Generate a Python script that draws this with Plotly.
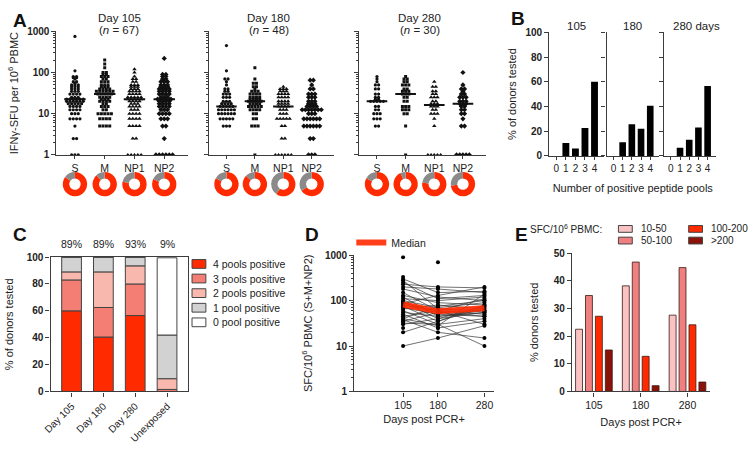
import numpy as np
import plotly.graph_objects as go

W, H = 750, 450
FONT = "Liberation Sans, Arial, Helvetica, sans-serif"
INK = "#222222"
AX = "#3c3c3c"

# ---------------- Panel A data: SFU values (levels) and number of donors at each level -------------
POOLS = ["S", "M", "NP1", "NP2"]
A_DAYS = ["Day 105", "Day 180", "Day 280"]
A_N = ["(<i>n</i> = 67)", "(<i>n</i> = 48)", "(<i>n</i> = 30)"]
THRESHOLD = 9

D105_S_LV = [1, 2.5, 5, 7.5, 10, 12.5, 15, 17.5, 20, 22.5, 25, 30, 35, 40, 45, 50, 55, 60, 70, 75, 80, 110, 750]
D105_S_CT = [3, 2, 1, 4, 3, 4, 4, 5, 6, 6, 3, 4, 3, 3, 3, 3, 1, 2, 1, 2, 2, 1, 1]
D105_M_LV = [5, 7.5, 10, 12.5, 15, 17.5, 20, 22.5, 25, 30, 35, 40, 45, 50, 60, 70, 80, 90, 100, 130, 160, 200]
D105_M_CT = [4, 4, 5, 2, 3, 2, 4, 3, 4, 5, 6, 4, 3, 3, 3, 2, 3, 2, 2, 1, 1, 1]
D105_NP1_LV = [1, 2.5, 5, 7.5, 10, 12.5, 15, 17.5, 20, 22.5, 25, 30, 35, 40, 45, 50, 60, 70, 80, 100, 120]
D105_NP1_CT = [5, 2, 4, 4, 4, 3, 4, 3, 4, 5, 5, 4, 4, 3, 3, 3, 2, 2, 1, 1, 1]
D105_NP2_LV = [1, 2.5, 5, 7.5, 10, 12.5, 15, 17.5, 20, 22.5, 25, 30, 35, 40, 45, 50, 60, 70, 80, 90, 220]
D105_NP2_CT = [6, 1, 2, 3, 4, 3, 4, 4, 4, 5, 3, 4, 4, 4, 3, 3, 3, 2, 2, 2, 1]

D180_S_LV = [5, 7.5, 10, 12.5, 15, 17.5, 20, 25, 30, 35, 40, 50, 60, 70, 110, 450]
D180_S_CT = [3, 5, 6, 6, 5, 4, 3, 3, 3, 2, 2, 1, 1, 2, 1, 1]
D180_M_LV = [1, 5, 7.5, 10, 12.5, 15, 17.5, 20, 22.5, 25, 30, 35, 40, 45, 55, 70, 130]
D180_M_CT = [1, 3, 2, 2, 4, 5, 4, 5, 4, 4, 4, 3, 1, 2, 2, 1, 1]
D180_NP1_LV = [1, 2.5, 5, 7.5, 10, 12.5, 15, 17.5, 20, 25, 30, 35, 40, 45]
D180_NP1_CT = [6, 2, 2, 5, 3, 3, 4, 4, 4, 4, 4, 3, 3, 1]
D180_NP2_LV = [1, 2.5, 5, 7.5, 10, 12.5, 15, 17.5, 20, 25, 30, 40, 50, 65]
D180_NP2_CT = [3, 2, 6, 6, 3, 7, 4, 3, 3, 3, 3, 2, 1, 2]

D280_S_LV = [5, 7.5, 10, 12.5, 15, 20, 22.5, 25, 30, 40, 50, 60, 70, 80]
D280_S_CT = [2, 3, 3, 2, 2, 5, 2, 2, 2, 2, 2, 1, 1, 1]
D280_M_LV = [1, 5, 10, 12.5, 15, 20, 25, 30, 35, 40, 50, 60, 70, 80]
D280_M_CT = [1, 1, 2, 3, 3, 2, 2, 3, 3, 2, 3, 2, 2, 1]
D280_NP1_LV = [1, 5, 7.5, 10, 12.5, 15, 17.5, 20, 25, 30, 35, 45, 60]
D280_NP1_CT = [5, 1, 1, 3, 2, 3, 3, 2, 3, 2, 2, 2, 1]
D280_NP2_LV = [1, 5, 7.5, 10, 12.5, 15, 17.5, 20, 25, 30, 35, 40, 50, 100]
D280_NP2_CT = [5, 2, 1, 2, 2, 2, 3, 3, 3, 2, 1, 2, 1, 1]

# % of donors responding (red part of each donut), per pool S, M, NP1, NP2
DONUT_105 = [85, 88, 78, 82]
DONUT_180 = [83, 87, 60, 66]
DONUT_280 = [83, 93, 77, 73]

# ---------------- Panel B data ----------------
B_POOLS = [0, 1, 2, 3, 4]
B_TITLES = ["105", "180", "280 days"]
B_105 = [0, 10.5, 6, 22.5, 60]
B_180 = [0, 11, 25.5, 22, 40.5]
B_280 = [0, 6.5, 13, 23, 56.5]

# ---------------- Panel C data ----------------
C_CATS = ["Day 105", "Day 180", "Day 280", "Unexposed"]
C_NAMES = ["4 pools positive", "3 pools positive", "2 pools positive", "1 pool positive", "0 pool positive"]
C_4 = [60, 40.5, 56.5, 0]
C_3 = [23, 22, 23.5, 1.5]
C_2 = [6, 26.5, 13.5, 8]
C_1 = [11, 11, 6.5, 32.5]
C_0 = [0, 0, 0, 57.5]
C_PCT = ["89%", "89%", "93%", "9%"]

# ---------------- Panel D data (SFC/10^6 PBMC, S+M+NP2) ----------------
D_DAYS = [105, 180, 280]
DONOR_105 = [230, 300, 250, 200, 180, 150, 130, 120, 110, 100, 95, 90, 85, 80, 75, 70, 65, 60, 55, 50,
             45, 40, 38, 35, 32, 30, 20, 10, 280, 40]
DONOR_180 = [200, 150, 110, 180, 120, 60, 90, 45, 100, 70, 40, 55, 130, 60, 35, 50, 80, 30, 45, 25,
             60, 75, 20, 55, 30, 40, 35, 15, 65, 28]
DONOR_280 = [190, 160, 130, 150, 100, 110, 80, 60, 120, 90, 75, 60, 200, 50, 70, 45, 65, 40, 55, 35,
             30, 100, 15, 45, 10, 55, 80, 28, 60, 140]
EXTRA_105 = [900, 330, 35, 45, 25]
EXTRA_180 = [700, 190, 25]
MEDIAN_D = [82, 58, 68]

# ---------------- Panel E data ----------------
E_DAYS = ["105", "180", "280"]
E_NAMES = ["10-50", "50-100", "100-200", ">200"]
E_10_50 = [22.5, 38.2, 27.6]
E_50_100 = [34.7, 46.8, 44.8]
E_100_200 = [27.2, 12.7, 24.1]
E_GT200 = [15.0, 2.1, 3.4]

# ---------------- styling ----------------
RED = "#ff2a00"
GREY_DONUT = "#8a8a8a"
C_COLORS = ["#ff2a00", "#f47d74", "#f9b8ae", "#d2d2d2", "#ffffff"]
E_COLORS = ["#f9c3c3", "#f08080", "#ff2a00", "#8a1208"]

fig = go.Figure()
layout = {}
annotations = []
shapes = []


def xdom(a, b):
    return [a / W, b / W]


def ydom(top, bot):
    return [1 - bot / H, 1 - top / H]


def tfont(size=10, bold=False):
    d = dict(family=FONT, size=size, color=INK)
    if bold:
        d["weight"] = "bold"
    return d


def base_axis(**kw):
    d = dict(showline=True, linecolor=AX, linewidth=1.2, ticks="outside", tickcolor=AX,
             tickwidth=1.1, ticklen=4, showgrid=False, zeroline=False, tickfont=tfont(10),
             fixedrange=True)
    d.update(kw)
    return d


def ax_names(k):
    return ("xaxis" if k == 1 else f"xaxis{k}", "yaxis" if k == 1 else f"yaxis{k}",
            "x" if k == 1 else f"x{k}", "y" if k == 1 else f"y{k}")


def letter(t, x, y):
    annotations.append(dict(text=f"<b>{t}</b>", x=x / W, y=1 - y / H, xref="paper", yref="paper",
                            xanchor="left", yanchor="top", showarrow=False,
                            font=dict(family=FONT, size=19, color="#111")))


def text_px(t, x, y, size=10.5, xanchor="center", yanchor="middle"):
    annotations.append(dict(text=t, x=x / W, y=1 - y / H, xref="paper", yref="paper",
                            xanchor=xanchor, yanchor=yanchor, showarrow=False, font=tfont(size)))


# ================= Panel A =================
A_DATA = [
    [(D105_S_LV, D105_S_CT), (D105_M_LV, D105_M_CT), (D105_NP1_LV, D105_NP1_CT), (D105_NP2_LV, D105_NP2_CT)],
    [(D180_S_LV, D180_S_CT), (D180_M_LV, D180_M_CT), (D180_NP1_LV, D180_NP1_CT), (D180_NP2_LV, D180_NP2_CT)],
    [(D280_S_LV, D280_S_CT), (D280_M_LV, D280_M_CT), (D280_NP1_LV, D280_NP1_CT), (D280_NP2_LV, D280_NP2_CT)],
]
DONUTS = [DONUT_105, DONUT_180, DONUT_280]
A_XPIX = [(49, 182), (203, 330), (355, 483)]
A_TOP, A_BOT = 26, 153
A_RANGE = [-0.62, 3.8]
SYMBOLS = ["circle", "square", "triangle-up", "diamond"]
SIZES = [3.2, 3.0, 4.0, 4.0]
STEP = 0.112

for d in range(3):
    k = d + 1
    xa, ya, xr, yr = ax_names(k)
    x0p, x1p = A_XPIX[d]
    layout[xa] = base_axis(domain=xdom(x0p, x1p), anchor=yr, range=A_RANGE,
                           tickvals=[0, 1, 2, 3], ticktext=POOLS, ticklen=3, tickfont=tfont(10.5))
    layout[ya] = base_axis(domain=ydom(A_TOP, A_BOT), anchor=xr, type="log", range=[0, 3],
                           tickvals=[1, 10, 100, 1000], ticktext=["1", "10", "100", "1000"],
                           tickfont=tfont(10, bold=True), showticklabels=(d == 0),
                           minor=dict(ticks="outside", ticklen=2, tickcolor=AX, dtick="D1", showgrid=False))
    if d == 0:
        layout[ya]["title"] = dict(text="IFN\u03b3-SFU per 10<sup>6</sup> PBMC", font=tfont(11), standoff=6)
    shapes.append(dict(type="rect", xref=f"{xr} domain", yref=yr, x0=0, x1=1, y0=0, y1=np.log10(THRESHOLD),
                       fillcolor="#dcdcdc", line=dict(width=0), layer="below"))
    text_px(A_DAYS[d], (x0p + x1p) / 2 - 3, 12, size=11.5)
    text_px(A_N[d], (x0p + x1p) / 2 - 3, 25, size=11.5)
    medx, medy = [], []
    for p in range(4):
        lv, ct = A_DATA[d][p]
        xs, ys = [], []
        for v, c in zip(lv, ct):
            for j in range(c):
                xs.append(p + (j - (c - 1) / 2) * STEP)
                ys.append(v)
        fig.add_trace(go.Scatter(x=xs, y=ys, mode="markers", xaxis=xr, yaxis=yr, showlegend=False,
                                 marker=dict(symbol=SYMBOLS[p], size=SIZES[p], color="#111",
                                             line=dict(width=0)), hoverinfo="skip"))
        med = float(np.median(ys))
        medx += [p - 0.36, p + 0.36, None]
        medy += [med, med, None]
        # donut under the category label
        cx = x0p + (p - A_RANGE[0]) / (A_RANGE[1] - A_RANGE[0]) * (x1p - x0p)
        cy, r = 183, 12.5
        pos = DONUTS[d][p]
        fig.add_trace(go.Pie(values=[pos, 100 - pos], marker=dict(colors=[RED, GREY_DONUT], line=dict(width=0)),
                             hole=0.47, sort=False, direction="clockwise", rotation=0, textinfo="none",
                             hoverinfo="skip", showlegend=False,
                             domain=dict(x=[(cx - r) / W, (cx + r) / W], y=[1 - (cy + r) / H, 1 - (cy - r) / H])))
    fig.add_trace(go.Scatter(x=medx, y=medy, mode="lines", xaxis=xr, yaxis=yr, showlegend=False,
                             line=dict(color="#111", width=2), hoverinfo="skip"))

letter("A", 3, 2)

# ================= Panel B =================
B_XPIX = [(547, 602), (605, 658), (663, 716)]
B_TOP, B_BOT = 27, 154
B_VALUES = [B_105, B_180, B_280]
for i in range(3):
    k = 4 + i
    xa, ya, xr, yr = ax_names(k)
    layout[xa] = base_axis(domain=xdom(*B_XPIX[i]), anchor=yr, range=[-0.75, 4.95], tickvals=B_POOLS,
                           ticklen=3, tickfont=tfont(10))
    layout[ya] = base_axis(domain=ydom(B_TOP, B_BOT), anchor=xr, range=[0, 100], dtick=20,
                           tickfont=tfont(10, bold=True), showticklabels=(i == 0))
    if i == 0:
        layout[ya]["title"] = dict(text="% of donors tested", font=tfont(11), standoff=6)
    if i == 1:
        layout[xa]["title"] = dict(text="Number of positive peptide pools", font=tfont(11), standoff=11)
    fig.add_trace(go.Bar(x=B_POOLS, y=B_VALUES[i], xaxis=xr, yaxis=yr, width=0.72, showlegend=False,
                         marker=dict(color="#000", line=dict(width=0)), hoverinfo="skip"))
    cx = (B_XPIX[i][0] + B_XPIX[i][1]) / 2 + (6 if i == 2 else 0)
    text_px(B_TITLES[i], cx, 21, size=11.5)

letter("B", 506, 0)

# ================= Panel C =================
xa, ya, xr, yr = ax_names(7)
layout[xa] = base_axis(domain=xdom(43, 182), anchor=yr, range=[-0.66, 3.66], tickvals=[0, 1, 2, 3],
                       ticktext=C_CATS, tickangle=-45, mirror=True, tickfont=tfont(10))
layout[ya] = base_axis(domain=ydom(258, 396), anchor=xr, range=[0, 100], dtick=20, mirror=True,
                       tickfont=tfont(10, bold=True),
                       title=dict(text="% of donors tested", font=tfont(11), standoff=10))
C_STACK = [C_4, C_3, C_2, C_1, C_0]
base = np.zeros(4)
for j, vals in enumerate(C_STACK):
    fig.add_trace(go.Bar(x=[0, 1, 2, 3], y=vals, base=base.copy(), xaxis=xr, yaxis=yr, width=0.62,
                         name=C_NAMES[j], showlegend=False, hoverinfo="skip",
                         marker=dict(color=C_COLORS[j], line=dict(color="#444", width=1))))
    base = base + np.array(vals)
for i, t in enumerate(C_PCT):
    annotations.append(dict(text=t, x=i, y=1 - 245 / H, xref=xr, yref="paper", showarrow=False,
                            font=tfont(10.5), xanchor="center", yanchor="middle"))
# legend (manual, Prism style)
for j, nm in enumerate(C_NAMES):
    yc = 265 + 15 * j
    shapes.append(dict(type="rect", xref="paper", yref="paper", x0=186 / W, x1=200 / W,
                       y0=1 - (yc + 4.5) / H, y1=1 - (yc - 4.5) / H, fillcolor=C_COLORS[j],
                       line=dict(color="#444", width=1)))
    text_px(nm, 205, yc, size=10.5, xanchor="left")
letter("C", 3, 222)

# ================= Panel D =================
xa, ya, xr, yr = ax_names(8)
layout[xa] = base_axis(domain=xdom(350, 491), anchor=yr, range=[0, 300], tickvals=D_DAYS,
                       tickfont=tfont(10.5), title=dict(text="Days post PCR+", font=tfont(11), standoff=5))
layout[ya] = base_axis(domain=ydom(256, 396), anchor=xr, type="log", range=[0, 3],
                       tickvals=[1, 10, 100, 1000], ticktext=["1", "10", "100", "1000"],
                       tickfont=tfont(10, bold=True),
                       minor=dict(ticks="outside", ticklen=2, tickcolor=AX, dtick="D1", showgrid=False),
                       title=dict(text="SFC/10<sup>6</sup> PBMC (S+M+NP2)", font=tfont(11), standoff=10))
lx, ly = [], []
for a, b, c in zip(DONOR_105, DONOR_180, DONOR_280):
    lx += D_DAYS + [None]
    ly += [a, b, c, None]
fig.add_trace(go.Scatter(x=lx, y=ly, mode="lines+markers", xaxis=xr, yaxis=yr, showlegend=False,
                         line=dict(color="#333", width=0.7), marker=dict(color="#000", size=4),
                         hoverinfo="skip"))
ex = [D_DAYS[0]] * len(EXTRA_105) + [D_DAYS[1]] * len(EXTRA_180)
fig.add_trace(go.Scatter(x=ex, y=EXTRA_105 + EXTRA_180, mode="markers", xaxis=xr, yaxis=yr,
                         showlegend=False, marker=dict(color="#000", size=4), hoverinfo="skip"))
fig.add_trace(go.Scatter(x=D_DAYS, y=MEDIAN_D, mode="lines", xaxis=xr, yaxis=yr, name="Median",
                         showlegend=True, line=dict(color=RED, width=6), opacity=0.9, hoverinfo="skip"))
letter("D", 298, 222)

# ================= Panel E =================
xa, ya, xr, yr = ax_names(9)
layout[xa] = base_axis(domain=xdom(570, 710), anchor=yr, range=[-0.47, 2.49], tickvals=[0, 1, 2],
                       ticktext=E_DAYS, tickfont=tfont(10.5),
                       title=dict(text="Days post PCR+", font=tfont(11), standoff=8))
layout[ya] = base_axis(domain=ydom(254, 396), anchor=xr, range=[0, 50], dtick=10,
                       tickfont=tfont(10, bold=True),
                       title=dict(text="% donors tested", font=tfont(11), standoff=12))
E_VALUES = [E_10_50, E_50_100, E_100_200, E_GT200]
BW, GAP = 0.148, 0.212
for j, vals in enumerate(E_VALUES):
    centre = (j - 1.5) * GAP
    fig.add_trace(go.Bar(x=[0, 1, 2], y=vals, xaxis=xr, yaxis=yr, width=BW, offset=centre - BW / 2,
                         name=E_NAMES[j], showlegend=False, hoverinfo="skip",
                         marker=dict(color=E_COLORS[j], line=dict(color="#3a1a14", width=0.8))))
text_px("SFC/10<sup>6</sup> PBMC:", 526, 229, size=10, xanchor="left")
E_LEG_POS = [(617, 229), (617, 241), (688, 229), (688, 241)]
for j, nm in enumerate(E_NAMES):
    lxp, lyp = E_LEG_POS[j]
    shapes.append(dict(type="rect", xref="paper", yref="paper", x0=lxp / W, x1=(lxp + 14) / W,
                       y0=1 - (lyp + 3.5) / H, y1=1 - (lyp - 3.5) / H, fillcolor=E_COLORS[j],
                       line=dict(color="#444", width=1)))
    text_px(nm, lxp + 21, lyp, size=10, xanchor="left")
letter("E", 510, 222)

fig.update_layout(
    width=W, height=H, margin=dict(l=0, r=0, t=0, b=0),
    paper_bgcolor="white", plot_bgcolor="rgba(0,0,0,0)",
    barmode="overlay", hovermode=False,
    font=dict(family=FONT, size=10.5, color=INK),
    annotations=annotations, shapes=shapes,
    legend=dict(x=347 / W, y=1 - 228 / H, xanchor="left", yanchor="top", bgcolor="rgba(0,0,0,0)",
                font=tfont(10.5), itemwidth=30),
    **layout,
)
fig.write_html("out.html", config={"displayModeBar": False},
               post_script="document.body.style.margin='0px';document.body.style.overflow='hidden';")
